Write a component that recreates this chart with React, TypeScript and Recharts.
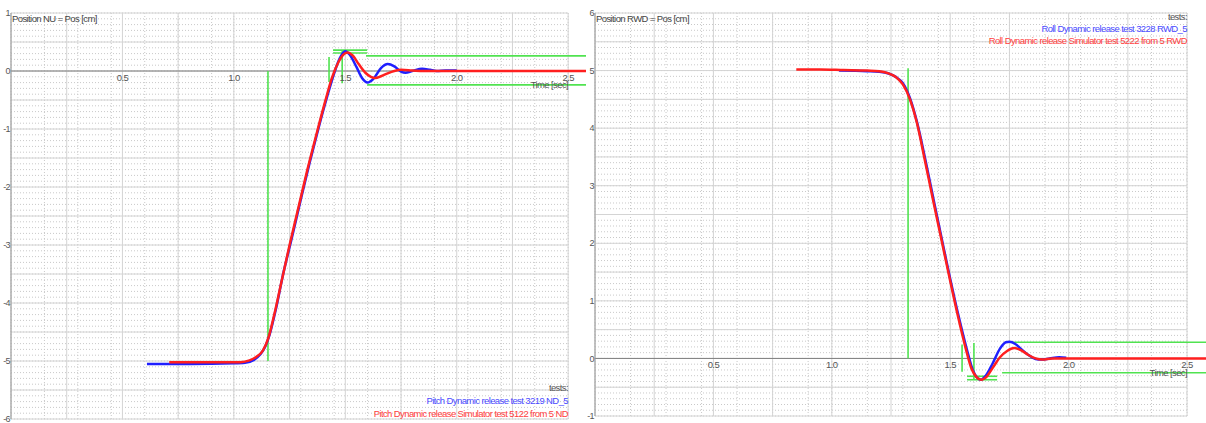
import {
  CartesianGrid,
  Legend,
  Line,
  LineChart,
  ReferenceDot,
  ReferenceLine,
  XAxis,
  YAxis,
} from "recharts";

const FONT = '"Liberation Sans", Arial, sans-serif';
const NARROW = { letterSpacing: "-0.6px" };
const BLUE = "#1f1fff";
const RED = "#ff1f1f";
const GREEN = "#50e350";
const Y_AXIS_W = 11;

// time axis (sec)
const xMax = 2.58;
const xGridEnd = 2.5;
const xTickValues = [0.5, 1.0, 1.5, 2.0, 2.5];
const xTickLabels = ["0.5", "1.0", "1.5", "2.0", "2.5"];

// left panel: pitch, position NU [cm]
const pitchTicks = [-6, -5, -4, -3, -2, -1, 0, 1];
const pitchTestTime = [
  0.61, 0.8, 1.0, 1.05, 1.09, 1.12, 1.14, 1.16, 1.19, 1.22, 1.26, 1.3, 1.34, 1.38, 1.42, 1.45,
  1.475, 1.5, 1.52, 1.55, 1.575, 1.6, 1.625, 1.66, 1.69, 1.72, 1.75, 1.77, 1.8, 1.845, 1.88,
  1.91, 1.95, 2.0,
];
const pitchTestPos = [
  -5.05, -5.05, -5.04, -5.03, -4.98, -4.88, -4.76, -4.55, -4.08, -3.52, -2.88, -2.22, -1.58,
  -0.98, -0.42, -0.04, 0.22, 0.34, 0.28, 0.07, -0.12, -0.2, -0.14, 0.05, 0.12, 0.08, -0.01,
  -0.03, 0.0, 0.04, 0.02, 0.0, 0.01, 0.01,
];
const pitchSimTime = [
  0.71, 0.9, 1.03, 1.07, 1.1, 1.13, 1.155, 1.18, 1.21, 1.25, 1.29, 1.33, 1.37, 1.41, 1.44, 1.47,
  1.49, 1.51, 1.535, 1.56, 1.59, 1.615, 1.635, 1.66, 1.69, 1.72, 1.75, 1.8, 1.85, 2.0, 2.3, 2.58,
];
const pitchSimPos = [
  -5.02, -5.02, -5.02, -4.99, -4.93, -4.82, -4.6, -4.22, -3.7, -3.0, -2.35, -1.7, -1.1, -0.52,
  -0.12, 0.16, 0.28, 0.32, 0.26, 0.12, -0.03, -0.1, -0.12, -0.09, -0.04, 0.0, 0.02, 0.01, 0.0,
  0.0, 0.0, 0.0,
];
// green guide segments: [t1, v1, t2, v2]
const pitchGuides = [
  [1.153, 0, 1.153, -5],
  [1.427, 0.24, 1.427, -0.19],
  [1.486, 0.36, 1.486, -0.21],
  [1.445, 0.36, 1.598, 0.36],
  [1.445, 0.31, 1.598, 0.31],
  [1.593, 0.26, 2.58, 0.26],
  [1.598, -0.24, 2.58, -0.24],
];

// right panel: roll, position RWD [cm]
const rollTicks = [-1, 0, 1, 2, 3, 4, 5, 6];
const rollTestTime = [
  1.03, 1.15, 1.2, 1.24, 1.27, 1.3, 1.33, 1.36, 1.395, 1.43, 1.465, 1.5, 1.535, 1.57, 1.595,
  1.615, 1.63, 1.65, 1.68, 1.71, 1.735, 1.75, 1.775, 1.8, 1.83, 1.86, 1.885, 1.92, 1.96, 1.99,
];
const rollTestPos = [
  5.0, 4.99, 4.98, 4.95, 4.89, 4.78, 4.52, 4.1, 3.45, 2.75, 2.06, 1.38, 0.74, 0.16, -0.2, -0.34,
  -0.37, -0.3, -0.08, 0.17, 0.28, 0.29, 0.25, 0.16, 0.06, -0.01, -0.02, 0.0, 0.02, 0.01,
];
const rollSimTime = [
  0.85, 0.95, 1.05, 1.15, 1.2, 1.24, 1.27, 1.3, 1.33, 1.36, 1.39, 1.425, 1.46, 1.495, 1.53, 1.565,
  1.59, 1.61, 1.63, 1.655, 1.68, 1.71, 1.74, 1.77, 1.8, 1.83, 1.86, 1.89, 1.93, 2.0, 2.3, 2.58,
];
const rollSimPos = [
  5.02, 5.02, 5.01, 5.0, 4.99, 4.95, 4.89, 4.76, 4.5, 4.08, 3.5, 2.8, 2.12, 1.44, 0.78, 0.18,
  -0.18, -0.32, -0.37, -0.31, -0.16, 0.02, 0.13, 0.18, 0.14, 0.06, 0.0, -0.02, 0.0, 0.0, 0.0, 0.0,
];
const rollGuides = [
  [1.322, 5.04, 1.322, 0],
  [1.55, 0.24, 1.55, -0.23],
  [1.6, 0.27, 1.6, -0.37],
  [1.571, -0.31, 1.698, -0.31],
  [1.571, -0.37, 1.698, -0.37],
  [1.74, 0.28, 2.58, 0.28],
  [1.719, -0.25, 2.58, -0.25],
];

const zip = (time: number[], pos: number[]) => time.map((t, i) => ({ t, v: pos[i] }));

function steps(from: number, to: number, step: number) {
  const out: number[] = [];
  for (let i = 0; from + i * step <= to + 1e-9; i++) out.push(+(from + i * step).toFixed(3));
  return out;
}

type Margin = { top: number; right: number; bottom: number; left: number };

function Panel({
  width,
  height,
  margin,
  yDomain,
  yTicks,
  title,
  titleY,
  timeY,
  test,
  sim,
  testName,
  simName,
  guides,
  legendLeft,
  legendTop,
  legendLine,
}: {
  width: number;
  height: number;
  margin: Margin;
  yDomain: [number, number];
  yTicks: number[];
  title: string;
  titleY: number;
  timeY: number;
  test: { t: number; v: number }[];
  sim: { t: number; v: number }[];
  testName: string;
  simName: string;
  guides: number[][];
  legendLeft: number;
  legendTop: number;
  legendLine: number;
}) {
  const plotW = width - margin.left - margin.right - Y_AXIS_W;
  const gridW = (plotW * xGridEnd) / xMax;
  const label = { fontSize: 9.5, fill: "#444", fontFamily: FONT, style: NARROW };

  return (
    <LineChart width={width} height={height} margin={margin}>
      <CartesianGrid
        width={gridW}
        stroke="#c9c9c9"
        strokeDasharray="1 2"
        verticalValues={steps(0, xGridEnd, 0.05)}
        horizontalValues={steps(yDomain[0], yDomain[1], 0.1)}
      />
      <CartesianGrid
        width={gridW}
        stroke="#d4d4d4"
        verticalValues={steps(0, xGridEnd, 0.25)}
        horizontalValues={steps(yDomain[0], yDomain[1], 0.5)}
      />
      <XAxis type="number" dataKey="t" domain={[0, xMax]} hide />
      <YAxis
        type="number"
        domain={yDomain}
        ticks={yTicks}
        interval={0}
        width={Y_AXIS_W}
        tickLine={false}
        tickSize={0}
        tickMargin={1}
        axisLine={{ stroke: "#9a9a9a" }}
        tick={{ fontSize: 9, fill: "#555", fontFamily: FONT, style: NARROW }}
      />
      <ReferenceLine y={0} stroke="#808080" />
      {xTickValues.map((t, i) => (
        <ReferenceDot
          key={t}
          x={t}
          y={0}
          r={0}
          fill="none"
          stroke="none"
          label={{ value: xTickLabels[i], position: "bottom", offset: 3, ...label, fill: "#555" }}
        />
      ))}
      <ReferenceDot
        x={0}
        y={titleY}
        r={0}
        fill="none"
        stroke="none"
        label={{ value: title, position: "right", offset: 1, ...label }}
      />
      {guides.map((g, i) => (
        <ReferenceLine
          key={i}
          segment={[
            { x: g[0], y: g[1] },
            { x: g[2], y: g[3] },
          ]}
          stroke={GREEN}
          strokeWidth={1.6}
          ifOverflow="visible"
        />
      ))}
      <ReferenceDot
        x={xGridEnd}
        y={timeY}
        r={0}
        fill="none"
        stroke="none"
        label={{ value: "Time [sec]", position: "left", offset: 0, ...label, fill: "#555" }}
      />
      <Line
        data={test}
        dataKey="v"
        name={testName}
        type="monotone"
        stroke={BLUE}
        strokeWidth={2.5}
        dot={false}
        isAnimationActive={false}
      />
      <Line
        data={sim}
        dataKey="v"
        name={simName}
        type="monotone"
        stroke={RED}
        strokeWidth={2.5}
        dot={false}
        isAnimationActive={false}
      />
      <Legend
        layout="vertical"
        align="center"
        verticalAlign="middle"
        wrapperStyle={{ left: legendLeft, top: legendTop, width: 260, right: "auto", bottom: "auto" }}
        content={({ payload }) => {
          const items = [...(payload ?? [])].sort((a, b) => (a.color === BLUE ? -1 : b.color === BLUE ? 1 : 0));
          return (
            <div
              style={{
                textAlign: "right",
                fontFamily: FONT,
                fontSize: 9.5,
                letterSpacing: "-0.6px",
                lineHeight: `${legendLine}px`,
              }}
            >
              <div style={{ color: "#555" }}>tests:</div>
              {items.map((p) => (
                <div key={String(p.value)} style={{ color: p.color === BLUE ? "#4a4aff" : "#ff4040" }}>
                  {p.value}
                </div>
              ))}
            </div>
          );
        }}
      />
    </LineChart>
  );
}

export default function App() {
  return (
    <div
      style={{
        position: "absolute",
        left: 0,
        top: 0,
        width: 1206,
        height: 423,
        background: "#fff",
        overflow: "hidden",
      }}
    >
      <div style={{ position: "absolute", left: 0, top: 0 }}>
        <Panel
          width={590}
          height={423}
          margin={{ top: 13, right: 4, bottom: 4, left: 0 }}
          yDomain={[-6, 1]}
          yTicks={pitchTicks}
          title="Position NU = Pos [cm]"
          titleY={0.91}
          timeY={-0.24}
          test={zip(pitchTestTime, pitchTestPos)}
          sim={zip(pitchSimTime, pitchSimPos)}
          testName="Pitch Dynamic release test 3219 ND_5"
          simName="Pitch Dynamic release Simulator test 5122 from 5 ND"
          guides={pitchGuides}
          legendLeft={308}
          legendTop={381}
          legendLine={13}
        />
      </div>
      <div style={{ position: "absolute", left: 584, top: 0 }}>
        <Panel
          width={622}
          height={423}
          margin={{ top: 13, right: 0, bottom: 7, left: 0 }}
          yDomain={[-1, 6]}
          yTicks={rollTicks}
          title="Position RWD = Pos [cm]"
          titleY={5.91}
          timeY={-0.25}
          test={zip(rollTestTime, rollTestPos)}
          sim={zip(rollSimTime, rollSimPos)}
          testName="Roll Dynamic release test 3228 RWD_5"
          simName="Roll Dynamic release Simulator test 5222 from 5 RWD"
          guides={rollGuides}
          legendLeft={343}
          legendTop={11}
          legendLine={12}
        />
      </div>
    </div>
  );
}
